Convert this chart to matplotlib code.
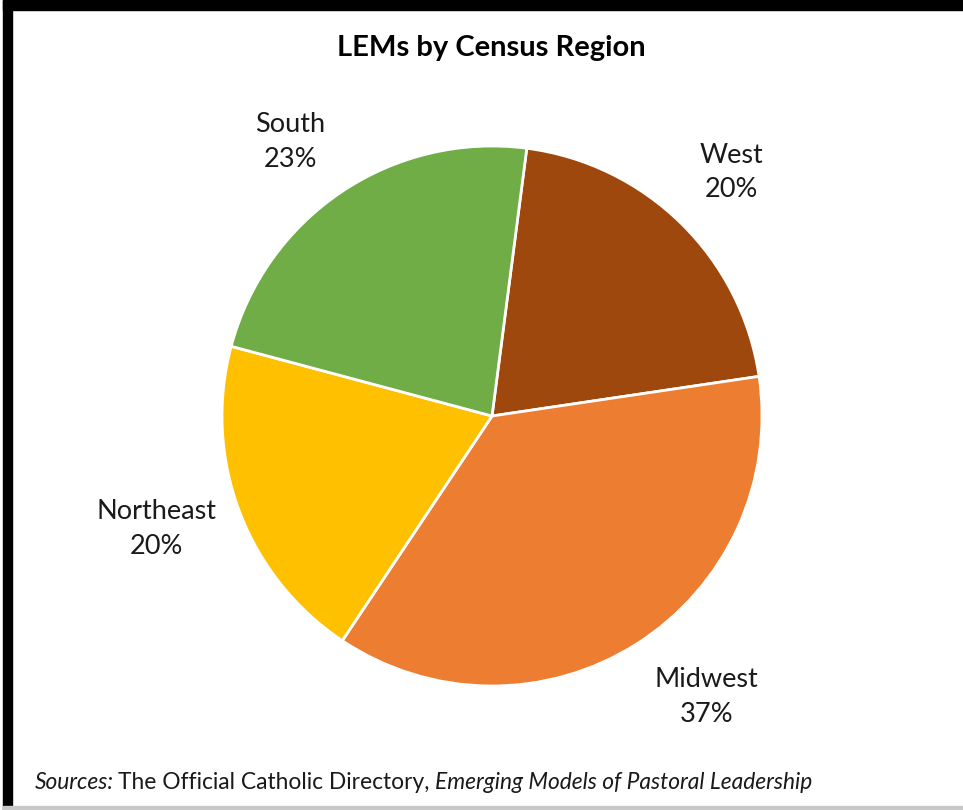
import matplotlib
matplotlib.use("Agg")
import matplotlib.pyplot as plt
import numpy as np
from matplotlib.patches import Rectangle

# data (shares in percent)
regions = ["West", "Midwest", "Northeast", "South"]
shares = [20.6, 36.7, 19.8, 22.9]
share_labels = ["20%", "37%", "20%", "23%"]
colors = ["#9E480E", "#ED7D31", "#FFC000", "#70AD47"]

title = "LEMs by Census Region"

# label placement tweaks (radius factor, angle shift in degrees)
label_dist = [1.265, 1.31, 1.31, 1.26]
label_shift = [0.0, 5.0, -2.0, 2.5]

W, H = 963, 810
plt.rcParams['font.family'] = ['Lato', 'DejaVu Sans']
fig = plt.figure(figsize=(W / 100, H / 100), dpi=100)
fig.patch.set_facecolor("white")


def px(x0, y0, w, h):
    # pixel box (top-left origin) -> figure fraction
    return [x0 / W, 1 - (y0 + h) / H, w / W, h / H]


# frame: thick black top/left, thin grey bottom
for box, col in [((3, 0, 960, 10), "black"), ((3, 0, 9, 810), "black"),
                 ((3, 806, 960, 4), "#c8c8c8")]:
    x, y, w, h = px(*box)
    fig.add_artist(Rectangle((x, y), w, h, transform=fig.transFigure,
                             color=col, zorder=5))

# pie: centre (492, 416), radius 270 px
cx, cy, r = 492, 416, 270
ax = fig.add_axes(px(cx - r, cy - r, 2 * r, 2 * r))
wedges, _ = ax.pie(shares, colors=colors,
                   startangle=82.6, counterclock=False,
                   wedgeprops=dict(edgecolor="white", linewidth=2))
for w, name, pct, d, s in zip(wedges, regions, share_labels,
                              label_dist, label_shift):
    ang = np.deg2rad((w.theta1 + w.theta2) / 2 + s)
    ax.text(d * np.cos(ang), d * np.sin(ang), f"{name}\n{pct}",
            ha="center", va="center", fontsize=19.5, color="#1a1a1a",
            linespacing=1.48)
ax.set_xlim(-1, 1)
ax.set_ylim(-1, 1)
ax.set_aspect("equal")
ax.axis("off")

fig.text(491 / W, 1 - 48 / H, title, ha="center", va="center",
         fontsize=21, fontweight="bold", color="black")

# source line, mixed italic / regular
fs = 16.4
base = 1 - 789 / H
t1 = fig.text(35 / W, base, "Sources:", fontsize=fs,
              style="italic", color="#1a1a1a", va="baseline")
fig.canvas.draw()
renderer = fig.canvas.get_renderer()
bb = t1.get_window_extent(renderer)
t2 = fig.text((bb.x1 + 4) / W, base, "The Official Catholic Directory, ",
              fontsize=fs, color="#1a1a1a", va="baseline")
fig.canvas.draw()
bb2 = t2.get_window_extent(renderer)
fig.text(bb2.x1 / W, base, "Emerging Models of Pastoral Leadership",
         fontsize=fs, style="italic", color="#1a1a1a", va="baseline")

fig.savefig("out.png", dpi=100, facecolor="white")
